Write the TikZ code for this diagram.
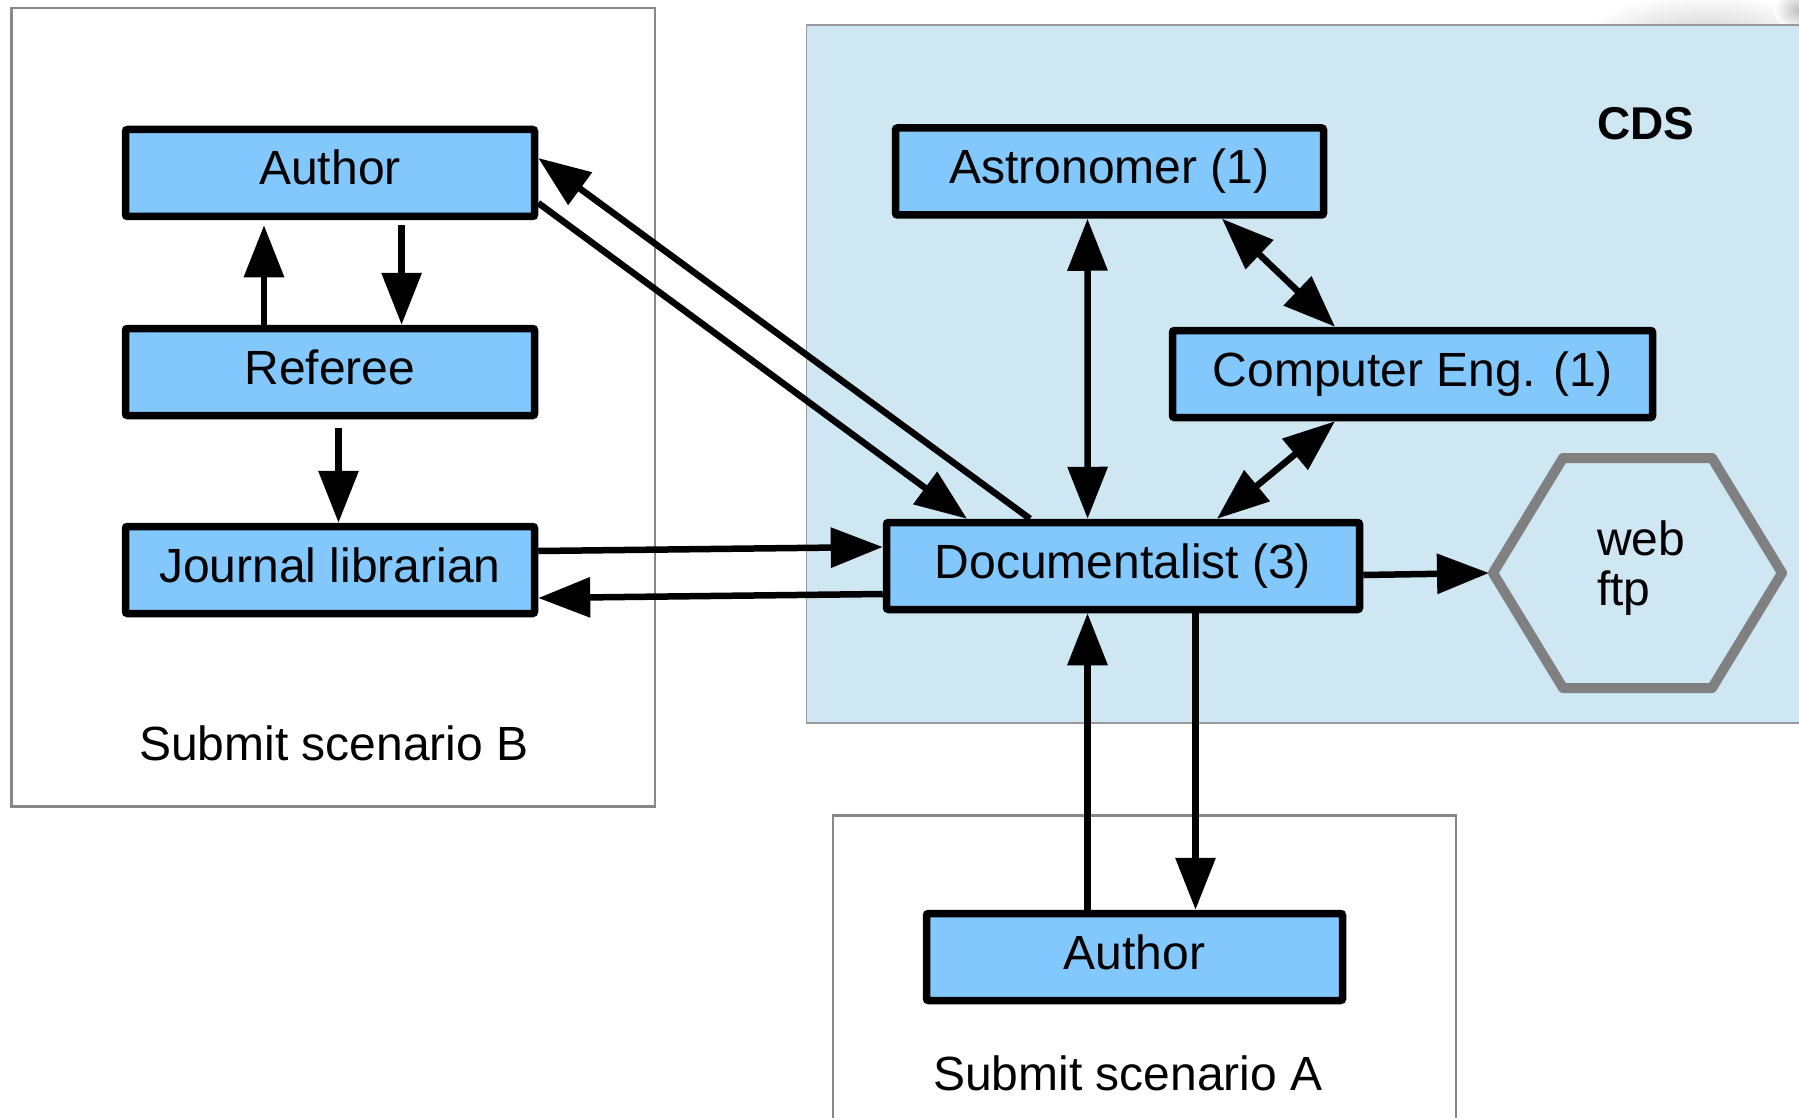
\documentclass[tikz,border=0pt]{standalone}
\usepackage{fontspec}
\setmainfont{Liberation Sans}
\usetikzlibrary{arrows.meta}

\definecolor{boxblue}{RGB}{130,200,252}
\definecolor{cdsbg}{RGB}{207,230,243}
\definecolor{framegray}{RGB}{136,136,136}
\definecolor{hexgray}{RGB}{128,128,128}

\tikzset{
  actor/.style={rectangle, draw=black, line width=7.5pt, fill=boxblue,
    rounded corners=2pt, inner sep=0pt, minimum height=87pt,
    text height=34pt, text depth=10pt,
    font=\fontsize{48}{56}\selectfont},
  flow/.style={line width=6.5pt, -{Triangle[length=52pt,width=39pt]}},
  both/.style={line width=6.5pt, {Triangle[length=52pt,width=39pt]}-{Triangle[length=52pt,width=39pt]}},
  frame/.style={draw=framegray, line width=2.5pt},
  caption/.style={font=\fontsize{48}{56}\selectfont},
}

\begin{document}
\begin{tikzpicture}[x=1pt, y=-1pt]
  \useasboundingbox (0,0) rectangle (1799,1118);
  \fill[white] (0,0) rectangle (1799,1118);

  % soft grey patch peeking above the CDS area
  \begin{scope}
    \clip (1560,0) rectangle (1799,25);
    \shade[inner color=gray!40, outer color=white] (1705,42) ellipse (125pt and 48pt);
    \shade[inner color=gray!50, outer color=white] (1799,10) ellipse (25pt and 20pt);
  \end{scope}

  % group areas
  \draw[draw=gray!80, line width=1.5pt, fill=cdsbg] (1830,25.2) -- (806.6,25.2) -- (806.6,722.8) -- (1830,722.8);
  \draw[frame] (11.5,8) rectangle (655,806.6);
  \draw[frame] (833,1140) -- (833,815.7) -- (1456,815.7) -- (1456,1140);

  \node[font=\bfseries\fontsize{46}{52}\selectfont] (cds) at (1646,124) {CDS};
  \node[caption] (capB) at (334,743) {Submit scenario B};
  \node[caption] (capA) at (1128,1073) {Submit scenario A};

  % scenario B actors
  \node[actor, minimum width=409pt] (authB) at (330,173) {Author};
  \node[actor, minimum width=409pt] (ref)   at (330,372) {Referee};
  \node[actor, minimum width=409pt] (jour)  at (330,570) {Journal librarian};

  % CDS actors
  \node[actor, minimum width=428pt] (astro) at (1109.5,171.5) {Astronomer (1)};
  \node[actor, minimum width=480pt] (comp)  at (1412.5,374) {Computer Eng. (1)};
  \node[actor, minimum width=473pt] (doc)   at (1123,566) {Documentalist (3)};

  % scenario A actor
  \node[actor, minimum width=416pt] (authA) at (1134.5,957) {Author};

  % publication outlet
  \node[inner sep=0pt, outer sep=0pt, minimum width=289pt, minimum height=230pt] (www) at (1637.5,573) {};
  \draw[hexgray, line width=10pt, line join=round]
    (www.west) -- ([xshift=-74.5pt]www.north) -- ([xshift=74.5pt]www.north)
    -- (www.east) -- ([xshift=74.5pt]www.south) -- ([xshift=-74.5pt]www.south) -- cycle;
  \node[font=\fontsize{48}{50}\selectfont, anchor=base west, inner sep=0pt] (web) at (1597,555) {web};
  \node[font=\fontsize{48}{50}\selectfont, anchor=base west, inner sep=0pt] (ftp) at (1597,605) {ftp};

  % scenario B flows
  \draw[flow] ([xshift=71.6pt,yshift=-5pt]authB.south) -- ([xshift=71.6pt]ref.north);
  \draw[flow] ([xshift=-66pt]ref.north) -- ([xshift=-66pt,yshift=-5pt]authB.south);
  \draw[flow] ([xshift=8.5pt,yshift=-9pt]ref.south) -- ([xshift=8.5pt]jour.north);

  % exchanges with the documentalist
  \draw[flow] ([yshift=19pt]jour.east) -- ([yshift=19pt]doc.west);
  \draw[flow] ([yshift=-28pt]doc.west) -- ([yshift=-28pt]jour.east);
  \draw[flow] ([yshift=-30pt]authB.east) -- ([xshift=-156pt]doc.north);
  \draw[flow] ([xshift=-93pt]doc.north) -- ([yshift=15pt]authB.east);

  % inside CDS
  \draw[both] ([xshift=-22pt]astro.south) -- ([xshift=-35.4pt]doc.north);
  \draw[both] ([xshift=112.5pt]astro.south) -- ([xshift=-77.5pt]comp.north);
  \draw[both] ([xshift=-77.5pt]comp.south) -- ([xshift=94pt]doc.north);
  \draw[flow] ([yshift=-9pt]doc.east) -- ([xshift=-4pt]www.west);

  % scenario A flows
  \draw[flow] ([xshift=-47pt]authA.north) -- ([xshift=-35.5pt]doc.south);
  \draw[flow] ([xshift=72.5pt]doc.south) -- ([xshift=61pt]authA.north);
\end{tikzpicture}
\end{document}
